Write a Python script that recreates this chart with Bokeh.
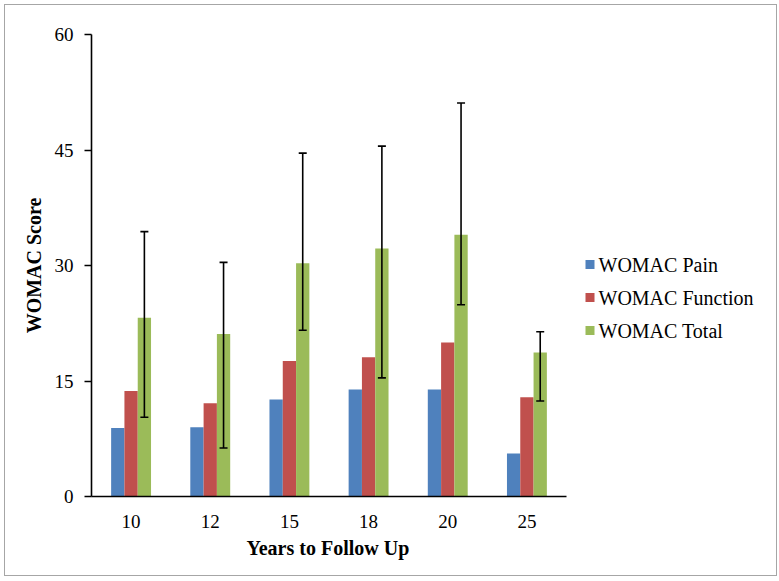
from bokeh.plotting import figure
from bokeh.models import (ColumnDataSource, Range1d, Whisker, FixedTicker, TeeHead, Title)
from bokeh.core.properties import value
from bokeh.embed import file_html
from bokeh.resources import INLINE

# WOMAC scores by years to follow-up
years = ["10", "12", "15", "18", "20", "25"]
pain = [8.9, 9.0, 12.6, 13.9, 13.9, 5.6]
function = [13.7, 12.1, 17.6, 18.1, 20.0, 12.9]
total = [23.2, 21.1, 30.3, 32.2, 34.0, 18.7]
total_low = [10.3, 6.3, 21.6, 15.4, 24.9, 12.4]
total_high = [34.4, 30.4, 44.6, 45.5, 51.1, 21.4]
y_ticks = [0, 15, 30, 45, 60]

series_names = ["WOMAC Pain", "WOMAC Function", "WOMAC Total"]
colors = ["#4F81BD", "#C0504D", "#9BBB59"]

FONT = "Liberation Serif"

# category slots: one unit per follow-up year, bars dodged inside each slot
n = len(years)
slot = [i + 0.5 for i in range(n)]
bw = 0.168
src = ColumnDataSource(dict(
    slot=slot, years=years, pain=pain, function=function, total=total,
    low=total_low, high=total_high,
    x_pain=[s - bw for s in slot], x_total=[s + bw for s in slot]))

# plot area: the categorical axis covers the left part, legend sits to its right
left_border, right_border = 86, 5
top_border, bottom_border = 29, 81
fig_w, fig_h = 773, 572
axis_px = 475
y_max = 60
frame_w = fig_w - left_border - right_border
frame_h = fig_h - top_border - bottom_border
x_end = n * frame_w / axis_px

p = figure(width=fig_w, height=fig_h, x_range=Range1d(0, x_end),
           y_range=Range1d(0, y_max), output_backend="svg", toolbar_location=None,
           min_border_left=left_border, min_border_right=right_border,
           min_border_top=top_border, min_border_bottom=bottom_border,
           margin=(4, 0, 0, 4), styles={"border": "1px solid #a6a6a6"})

p.vbar(x="x_pain", top="pain", width=bw, source=src, color=colors[0], line_color=None)
p.vbar(x="slot", top="function", width=bw, source=src, color=colors[1], line_color=None)
p.vbar(x="x_total", top="total", width=bw, source=src, color=colors[2], line_color=None)

# error bars on the total score
err = Whisker(base="x_total", lower="low", upper="high",
              source=src, line_color="black", line_width=1.6, level="overlay",
              upper_head=TeeHead(size=8, line_color="black", line_width=1.6),
              lower_head=TeeHead(size=8, line_color="black", line_width=1.6))
p.add_layout(err)

p.xgrid.visible = False
p.ygrid.visible = False
p.outline_line_color = None

p.yaxis.ticker = FixedTicker(ticks=y_ticks)
p.yaxis.minor_tick_line_color = None
p.yaxis.major_tick_out = 7
p.yaxis.major_tick_in = 0
p.yaxis.major_tick_line_color = "black"
p.yaxis.major_tick_line_width = 1.6
p.yaxis.major_label_standoff = 11
p.yaxis.axis_label = "WOMAC Score"
p.yaxis.axis_label_standoff = 7

p.xaxis.bounds = (0, n)
p.xaxis.ticker = FixedTicker(ticks=slot)
p.xaxis.major_label_overrides = {s: y for s, y in zip(slot, years)}
p.xaxis.major_tick_line_color = None
p.xaxis.minor_tick_line_color = None
p.xaxis.major_label_standoff = 12

for ax in (p.xaxis[0], p.yaxis[0]):
    ax.axis_line_color = "black"
    ax.axis_line_width = 1.6
    ax.major_label_text_font = FONT
    ax.major_label_text_font_size = "19px"
    ax.major_label_text_color = "black"
    ax.axis_label_text_font = FONT
    ax.axis_label_text_font_size = "20px"
    ax.axis_label_text_font_style = "bold"
    ax.axis_label_text_color = "black"

# x-axis title, placed under the middle of the category axis
x_title = Title(text="Years to Follow Up", align="left", offset=155, standoff=9,
                text_font=FONT, text_font_size="20px", text_font_style="bold",
                text_color="black")
p.add_layout(x_title, "below")

# legend to the right of the bars: key squares and serif labels
px_x = n / axis_px          # data units per horizontal pixel
px_y = y_max / frame_h      # data units per vertical pixel
key_x = (axis_px + 23.5) * px_x
text_x = (axis_px + 32) * px_x
row_y = [(232 - 33 * i) * px_y for i in range(len(series_names))]
leg = ColumnDataSource(dict(kx=[key_x] * 3, tx=[text_x] * 3, y=row_y,
                            label=series_names, color=colors))
p.rect(x="kx", y="y", width=9, height=9, width_units="screen", height_units="screen",
       fill_color="color", line_color=None, source=leg)
p.text(x="tx", y="y", text="label", source=leg, text_font=value(FONT),
       text_font_size="20px", text_color="black", text_baseline="middle",
       text_align="left")

open("out.html", "w").write(file_html(p, INLINE))
